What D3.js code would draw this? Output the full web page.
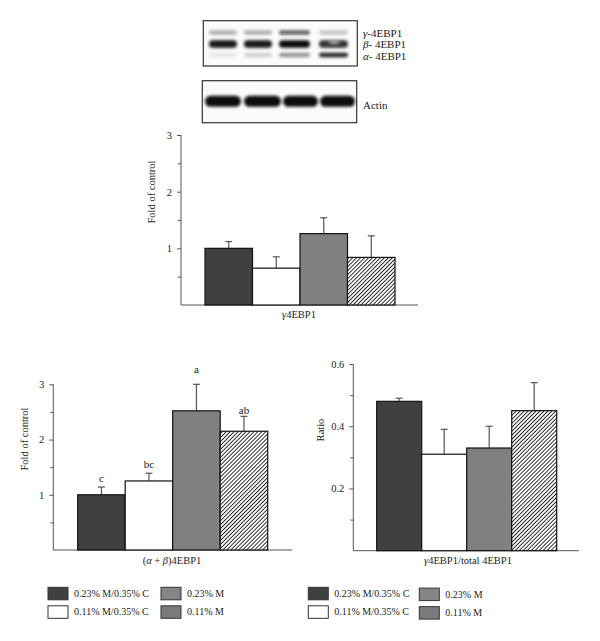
<!DOCTYPE html>
<html><head><meta charset="utf-8">
<script src="https://cdn.jsdelivr.net/npm/d3@7"></script>
<style>body{margin:0;background:#fff}svg{display:block}text{font-family:"Liberation Serif","DejaVu Serif",serif;fill:#222}</style>
</head><body><svg id="c" width="600" height="641"></svg>
<script>
// ---- data ----
const groups = ["0.23% M/0.35% C","0.11% M/0.35% C","0.23% M","0.11% M"];
const gammaVals = [1.00, 0.65, 1.26, 0.84];
const gammaErr  = [1.12, 0.85, 1.54, 1.22];
const abVals = [1.00, 1.25, 2.52, 2.15];
const abErr  = [1.14, 1.39, 3.00, 2.42];
const abLetters = ["c","bc","a","ab"];
const abLetterY = [1.23, 1.48, 3.2, 2.46];
const ratioVals = [0.48, 0.31, 0.33, 0.45];
const ratioErr  = [0.49, 0.39, 0.40, 0.54];
const foldTicks = [1,2,3];
const foldMinor = [0.5,1.5,2.5];
const ratioTicks = [0.2,0.4,0.6];
const ratioMinor = [0.1,0.3,0.5];
// blot band intensities per lane
const gammaBand = [0.3,0.3,0.65,0.22];
const betaBand  = [0.95,0.95,1.0,0.85];
const alphaBand = [0.08,0.16,0.4,0.9];
const actinBand = [1,1,1,1];
const blotLabels = ["γ-4EBP1","β- 4EBP1","α- 4EBP1"];

const svg = d3.select("#c");
const defs = svg.append("defs");
const pat = defs.append("pattern").attr("id","hatch").attr("patternUnits","userSpaceOnUse")
  .attr("width",2.8).attr("height",2.8).attr("patternTransform","rotate(45)");
pat.append("rect").attr("width",2.8).attr("height",2.8).attr("fill","#fff");
pat.append("line").attr("x1",0).attr("y1",0).attr("x2",0).attr("y2",2.8).attr("stroke","#1a1a1a").attr("stroke-width",1.8);
const blur = defs.append("filter").attr("id","blur").attr("x","-20%").attr("y","-50%").attr("width","140%").attr("height","200%");
blur.append("feGaussianBlur").attr("stdDeviation",1.6);

const fills = ["#404040","#ffffff","#808080","url(#hatch)"];
const legendFills = ["#404040","#ffffff","#858585","#7a7a7a"];

function chart(o){
  const g = svg.append("g");
  const y = d3.scaleLinear().domain([0,o.max]).range([o.y0,o.yTop]);
  const x = d3.scaleBand().domain(groups).range([o.bx0,o.bx1]).padding(0);
  const ax = d3.axisLeft(y).tickValues(o.ticks).tickSize(4).tickFormat(o.fmt);
  const axg = g.append("g").attr("transform",`translate(${o.ax},0)`).call(ax);
  axg.select(".domain").attr("stroke","#555").attr("d",`M0,${o.y0}V${y(o.max)}`);
  axg.selectAll(".tick line").attr("stroke","#555");
  axg.selectAll(".tick text").attr("font-size",10.5).attr("font-family","Liberation Serif,serif").attr("fill","#222").attr("dx",-2);
  const mg = g.append("g").attr("transform",`translate(${o.ax},0)`).call(d3.axisLeft(y).tickValues(o.minor).tickSize(3).tickFormat(""));
  mg.select(".domain").remove();
  mg.selectAll(".tick line").attr("stroke","#555");
  g.append("line").attr("x1",o.ax).attr("x2",o.axEnd).attr("y1",o.y0).attr("y2",o.y0).attr("stroke","#555");
  const eg = g.append("g").attr("stroke","#555").attr("stroke-width",1.2);
  groups.forEach((k,i)=>{
    const cx = x(k)+x.bandwidth()/2;
    eg.append("line").attr("x1",cx).attr("x2",cx).attr("y1",y(o.vals[i])).attr("y2",y(o.err[i]));
    eg.append("line").attr("x1",cx-3.5).attr("x2",cx+3.5).attr("y1",y(o.err[i])).attr("y2",y(o.err[i]));
  });
  g.selectAll("rect.bar").data(o.vals).join("rect").attr("class","bar")
    .attr("x",(d,i)=>x(groups[i])).attr("width",x.bandwidth())
    .attr("y",d=>y(d)).attr("height",d=>o.y0-y(d))
    .attr("fill",(d,i)=>fills[i]).attr("stroke","#111").attr("stroke-width",1.2);
  if(o.letters){
    o.letters.forEach((t,i)=>{
      g.append("text").attr("x",x(groups[i])+x.bandwidth()/2).attr("y",y(o.letterY[i]))
        .attr("text-anchor","middle").attr("font-size",11).text(t);
    });
  }
  g.append("text").attr("transform",`translate(${o.ytx},${o.yty}) rotate(-90)`).attr("text-anchor","middle")
    .attr("font-size",10.5).text(o.ytitle);
  const xt = g.append("text").attr("x",o.xtx).attr("y",o.xty).attr("text-anchor","middle").attr("font-size",10.5);
  o.xtitle.forEach(p=>{ const s = xt.append("tspan").text(p.t); if(p.i) s.attr("font-style","italic"); });
}

chart({vals:gammaVals,err:gammaErr,max:3,ticks:foldTicks,minor:foldMinor,fmt:d3.format("d"),
  y0:305,yTop:135,ax:181,axEnd:418,bx0:205,bx1:395,ytitle:"Fold of control",ytx:155,yty:192,
  xtitle:[{t:"γ",i:true},{t:"4EBP1"}],xtx:299,xty:318});
chart({vals:abVals,err:abErr,max:3,ticks:foldTicks,minor:foldMinor,fmt:d3.format("d"),
  y0:550,yTop:384.3,ax:53.3,axEnd:292,bx0:77.7,bx1:267.7,ytitle:"Fold of control",ytx:28,yty:439,
  letters:abLetters,letterY:abLetterY,
  xtitle:[{t:"("},{t:"α",i:true},{t:" + "},{t:"β",i:true},{t:")4EBP1"}],xtx:172,xty:564});
chart({vals:ratioVals,err:ratioErr,max:0.6,ticks:ratioTicks,minor:ratioMinor,fmt:d3.format(".1f"),
  y0:550.7,yTop:364,ax:353.3,axEnd:579,bx0:376.7,bx1:556.7,ytitle:"Ratio",ytx:324,yty:430,
  xtitle:[{t:"γ",i:true},{t:"4EBP1/total 4EBP1"}],xtx:468,xty:564});

function legend(x0,x1,y0,y1,dyR){
  const pos = [[x0,y0],[x0,y1],[x1,y0+dyR],[x1,y1+dyR]];
  groups.forEach((k,i)=>{
    const [lx,ly] = pos[i];
    svg.append("rect").attr("x",lx).attr("y",ly).attr("width",20).attr("height",12.5)
      .attr("fill",legendFills[i]).attr("stroke","#333").attr("stroke-width",1);
    svg.append("text").attr("x",lx+26).attr("y",ly+9.5).attr("font-size",10).text(k);
  });
}
legend(48,161,587.3,605.8,0);
legend(308.3,419.3,587.3,605.8,0.8);

function blot(bx,by,bw,bh,rows){
  const g = svg.append("g");
  g.append("rect").attr("x",bx).attr("y",by).attr("width",bw).attr("height",bh).attr("fill","#fbfbfb")
    .attr("stroke","#333").attr("stroke-width",1.2);
  const bands = g.append("g").attr("filter","url(#blur)");
  rows.forEach(r=>{
    r.vals.forEach((v,i)=>{
      bands.append("rect").attr("x",r.lanes[i][0]).attr("width",r.lanes[i][1]-r.lanes[i][0])
        .attr("y",r.cy-r.h/2).attr("height",r.h).attr("rx",r.h/2)
        .attr("fill","#0a0a0a").attr("opacity",v);
    });
  });
}
const laneA = [[209,237],[244,272],[279,310],[319,348]];
const laneB = [[205,241],[244,281],[283,318],[320,355]];
blot(203.3,20.7,154,45.3,[
  {vals:gammaBand,lanes:laneA,cy:32.5,h:4.5},
  {vals:betaBand,lanes:laneA,cy:44,h:7.5},
  {vals:alphaBand,lanes:laneA,cy:55,h:4.5}
]);
blot(202.3,80.7,154.4,42,[{vals:actinBand,lanes:laneB,cy:101.3,h:11}]);
svg.append("ellipse").attr("cx",334).attr("cy",42.5).attr("rx",6).attr("ry",1.5).attr("fill","#fff").attr("opacity",0.7).attr("filter","url(#blur)");
const bl = [33,44.5,56];
blotLabels.forEach((t,i)=>{
  const tx = svg.append("text").attr("x",363).attr("y",bl[i]+3.5).attr("font-size",11);
  tx.append("tspan").attr("font-style","italic").text(t[0]);
  tx.append("tspan").text(t.slice(1));
});
svg.append("text").attr("x",363).attr("y",109).attr("font-size",11).text("Actin");
</script></body></html>
